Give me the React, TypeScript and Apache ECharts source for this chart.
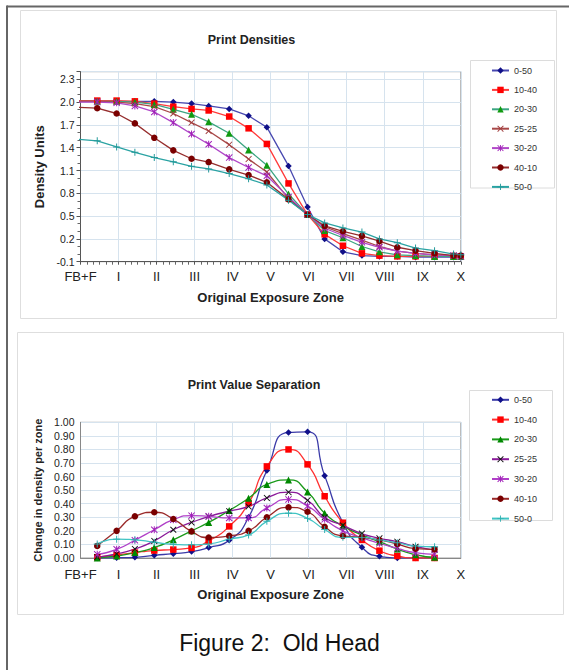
import React, { useEffect, useRef } from "react";
import * as echarts from "echarts";

// ---------- data ----------
const zoneLabels = ["FB+F", "I", "II", "III", "IV", "V", "VI", "VII", "VIII", "IX", "X"];
const seriesNames = ["0-50", "10-40", "20-30", "25-25", "30-20", "40-10", "50-0"];

// Print Densities (x in zones)
const densityX = [-0.05, 0.44, 0.95, 1.43, 1.94, 2.44, 2.92, 3.37, 3.91, 4.42, 4.9, 5.47, 5.97, 6.42, 6.9, 7.4, 7.86, 8.33, 8.81, 9.31, 9.81, 10.0];
const density0_50 = [2.01, 2.01, 2.01, 2.01, 2.01, 2.0, 1.98, 1.95, 1.91, 1.82, 1.67, 1.16, 0.62, 0.2, 0.03, -0.02, -0.03, -0.03, -0.04, -0.04, -0.04, -0.04];
const density10_40 = [2.02, 2.02, 2.02, 2.01, 1.98, 1.94, 1.91, 1.89, 1.81, 1.655, 1.45, 0.93, 0.52, 0.26, 0.11, 0.01, -0.02, -0.03, -0.03, -0.03, -0.03, -0.03];
const density20_30 = [2.01, 2.01, 2.01, 2.0, 1.97, 1.905, 1.84, 1.74, 1.59, 1.37, 1.17, 0.79, 0.52, 0.31, 0.215, 0.1, 0.03, -0.01, -0.02, -0.03, -0.03, -0.03];
const density25_25 = [2.01, 2.01, 2.0, 1.98, 1.94, 1.85, 1.73, 1.62, 1.44, 1.25, 1.08, 0.73, 0.52, 0.36, 0.27, 0.185, 0.1, 0.04, 0.01, -0.01, -0.02, -0.03];
const density30_20 = [2.0, 2.0, 1.99, 1.95, 1.87, 1.73, 1.58, 1.445, 1.27, 1.14, 1.03, 0.75, 0.52, 0.34, 0.245, 0.155, 0.09, 0.04, 0.01, -0.01, -0.02, -0.03];
const density40_10 = [1.93, 1.92, 1.85, 1.72, 1.53, 1.365, 1.255, 1.21, 1.115, 1.04, 0.945, 0.72, 0.52, 0.37, 0.3, 0.24, 0.17, 0.09, 0.045, 0.01, -0.02, -0.02];
const density50_0 = [1.51, 1.49, 1.41, 1.34, 1.27, 1.215, 1.155, 1.12, 1.06, 0.99, 0.91, 0.71, 0.52, 0.41, 0.345, 0.29, 0.2, 0.15, 0.08, 0.045, 0.0, -0.01];

// Print Value Separation
const separationX = [0.44, 0.95, 1.43, 1.94, 2.44, 2.92, 3.37, 3.91, 4.42, 4.9, 5.47, 5.97, 6.42, 6.9, 7.4, 7.86, 8.33, 8.81, 9.31];
const sep0_50 = [0.0, 0.002, 0.005, 0.02, 0.032, 0.047, 0.077, 0.13, 0.3, 0.645, 0.925, 0.93, 0.607, 0.26, 0.079, 0.012, 0.0, 0.0, 0.0];
const sep10_40 = [0.005, 0.022, 0.04, 0.055, 0.062, 0.074, 0.126, 0.233, 0.405, 0.675, 0.8, 0.69, 0.455, 0.26, 0.133, 0.054, 0.015, 0.0, 0.0];
const sep20_30 = [0.0, 0.015, 0.04, 0.077, 0.134, 0.2, 0.262, 0.35, 0.44, 0.542, 0.575, 0.486, 0.33, 0.236, 0.17, 0.12, 0.066, 0.024, 0.005];
const sep25_25 = [0.007, 0.03, 0.067, 0.126, 0.208, 0.262, 0.305, 0.345, 0.38, 0.443, 0.485, 0.425, 0.3, 0.24, 0.18, 0.145, 0.12, 0.083, 0.06];
const sep30_20 = [0.027, 0.064, 0.131, 0.208, 0.282, 0.312, 0.307, 0.295, 0.295, 0.369, 0.432, 0.383, 0.285, 0.2, 0.15, 0.108, 0.071, 0.039, 0.027];
const sep40_10 = [0.089, 0.2, 0.307, 0.337, 0.287, 0.196, 0.151, 0.163, 0.2, 0.3, 0.373, 0.341, 0.23, 0.162, 0.152, 0.133, 0.103, 0.069, 0.064];
const sep50_0 = [0.104, 0.139, 0.134, 0.116, 0.101, 0.097, 0.104, 0.139, 0.17, 0.27, 0.33, 0.292, 0.21, 0.152, 0.152, 0.133, 0.113, 0.088, 0.083];

const densitySeries = [density0_50, density10_40, density20_30, density25_25, density30_20, density40_10, density50_0];
const separationSeries = [sep0_50, sep10_40, sep20_30, sep25_25, sep30_20, sep40_10, sep50_0];

// ---------- styles ----------
const FONT = "'Liberation Sans', Arial, Helvetica, sans-serif";
const X_PATH = "path://M1,0L5,4L9,0L10,1L6,5L10,9L9,10L5,6L1,10L0,9L4,5L0,1Z";
const STAR_PATH = "path://M1,0L5,4L9,0L10,1L6,5L10,9L9,10L5,6L1,10L0,9L4,5L0,1Z M4.3,0L5.7,0L5.7,10L4.3,10Z";
const PLUS_PATH = "path://M4.3,0L5.7,0L5.7,4.3L10,4.3L10,5.7L5.7,5.7L5.7,10L4.3,10L4.3,5.7L0,5.7L0,4.3L4.3,4.3Z";

const topStyles = [
  { symbol: "diamond", size: 6.5, line: "#4848b0", marker: "#101088" },
  { symbol: "rect", size: 6.5, line: "#ff3b3b", marker: "#ff0000" },
  { symbol: "triangle", size: 7, line: "#3ca582", marker: "#119a11" },
  { symbol: X_PATH, size: 6.5, line: "#a84848", marker: "#a03c3c" },
  { symbol: STAR_PATH, size: 7, line: "#b048c8", marker: "#a020b8" },
  { symbol: "circle", size: 6.5, line: "#962e2e", marker: "#7a0000" },
  { symbol: PLUS_PATH, size: 7, line: "#2aa3a3", marker: "#229999" },
];
const bottomStyles = [
  { symbol: "diamond", size: 6.5, line: "#3a3aa8", marker: "#10108a" },
  { symbol: "rect", size: 6.5, line: "#ff3030", marker: "#ff0000" },
  { symbol: "triangle", size: 7, line: "#1a9a1a", marker: "#008800" },
  { symbol: X_PATH, size: 6.5, line: "#8a1a9a", marker: "#111111" },
  { symbol: STAR_PATH, size: 7, line: "#b040c8", marker: "#a020b8" },
  { symbol: "circle", size: 6.5, line: "#9a2a2a", marker: "#7a0000" },
  { symbol: PLUS_PATH, size: 7, line: "#40c4c4", marker: "#30b0b0" },
];

function buildSeries(name: string, xs: number[], ys: number[], st: any, gi: number, smooth: number | boolean) {
  return {
    type: "line",
    name,
    xAxisIndex: gi,
    yAxisIndex: gi,
    data: xs.map((x, i) => [x, ys[i]]),
    symbol: st.symbol,
    symbolSize: st.size,
    symbolKeepAspect: true,
    smooth,
    clip: true,
    lineStyle: { color: st.line, width: 1.3 },
    itemStyle: { color: st.marker },
    emphasis: { disabled: true },
    silent: true,
  };
}

const gridColor = "#d6e3ee";

export default function App() {
  const ref = useRef<HTMLDivElement>(null);
  useEffect(() => {
    document.body.style.margin = "0";
    if (!ref.current) return;
    const chart = echarts.init(ref.current, null, { renderer: "svg" });
    const series: any[] = [];
    seriesNames.forEach((n, i) => series.push(buildSeries(n, densityX, densitySeries[i], topStyles[i], 0, false)));
    seriesNames.forEach((n, i) => series.push(buildSeries(n + " ", separationX, separationSeries[i], bottomStyles[i], 1, 0.6)));

    const xLabel = { formatter: (v: number) => zoneLabels[Math.round(v)] ?? "", fontSize: 13, color: "#222", fontFamily: FONT, margin: 8 };
    const axisTitle = { fontWeight: "bold", fontSize: 13, color: "#222", fontFamily: FONT };
    const legendBase = {
      orient: "vertical", left: 491, itemWidth: 17, itemHeight: 8, padding: 0,
      textStyle: { fontSize: 9, color: "#333", fontFamily: FONT }, selectedMode: false,
      formatter: (n: string) => n.trim(),
    };

    const option: any = {
      animation: false,
      backgroundColor: "#fff",
      grid: [
        { left: 80.5, top: 71.7, width: 380.3, height: 190, show: true, borderColor: "#a0a0a0", borderWidth: 1, backgroundColor: "transparent" },
        { left: 80.5, top: 422.3, width: 380.3, height: 135.7, show: true, borderColor: "#a0a0a0", borderWidth: 1, backgroundColor: "transparent" },
      ],
      xAxis: [
        {
          gridIndex: 0, type: "value", min: 0, max: 10, interval: 1,
          axisLine: { show: true, onZero: false, lineStyle: { color: "#555" } },
          axisTick: { show: true, length: 3, lineStyle: { color: "#555" } },
          minorTick: { show: true, splitNumber: 6, length: 3, lineStyle: { color: "#666" } },
          axisLabel: xLabel,
          splitLine: { show: true, lineStyle: { color: gridColor } },
          name: "Original Exposure Zone", nameLocation: "middle", nameGap: 29, nameTextStyle: axisTitle,
        },
        {
          gridIndex: 1, type: "value", min: 0, max: 10, interval: 1,
          axisLine: { show: true, onZero: false, lineStyle: { color: "#888" } },
          axisTick: { show: false },
          axisLabel: { ...xLabel, margin: 10 },
          splitLine: { show: true, lineStyle: { color: gridColor } },
          name: "Original Exposure Zone", nameLocation: "middle", nameGap: 29.5, nameTextStyle: axisTitle,
        },
      ],
      yAxis: [
        {
          gridIndex: 0, type: "value", min: -0.1, max: 2.4, interval: 0.3,
          axisLine: { show: true, onZero: false, lineStyle: { color: "#555" } },
          axisTick: { show: true, length: 4, lineStyle: { color: "#555" } },
          minorTick: { show: true, splitNumber: 3, length: 3, lineStyle: { color: "#666" } },
          axisLabel: { formatter: (v: number) => v.toFixed(1), fontSize: 10.5, color: "#222", fontFamily: FONT, margin: 6, showMaxLabel: false },
          splitLine: { show: true, lineStyle: { color: gridColor } },
          name: "Density Units", nameLocation: "middle", nameGap: 33, nameTextStyle: { ...axisTitle, fontSize: 13 },
        },
        {
          gridIndex: 1, type: "value", min: 0, max: 1, interval: 0.1,
          axisLine: { show: true, onZero: false, lineStyle: { color: "#888" } },
          axisTick: { show: false },
          axisLabel: { formatter: (v: number) => v.toFixed(2), fontSize: 10.5, color: "#222", fontFamily: FONT, margin: 6 },
          splitLine: { show: true, lineStyle: { color: gridColor } },
          name: "Change in density per zone", nameLocation: "middle", nameGap: 34, nameTextStyle: { ...axisTitle, fontSize: 11 },
        },
      ],
      legend: [
        { ...legendBase, data: seriesNames, top: 66, itemGap: 10.4 },
        { ...legendBase, data: seriesNames.map((n) => n + " "), top: 395.3, itemGap: 10.8 },
      ],
      graphic: [
        { type: "line", silent: true, shape: { x1: 7, y1: 6.5, x2: 569, y2: 6.5 }, style: { stroke: "#666", lineWidth: 2 } },
        { type: "line", silent: true, shape: { x1: 7, y1: 5.5, x2: 7, y2: 670 }, style: { stroke: "#666", lineWidth: 2 } },
        { type: "rect", silent: true, shape: { x: 20.5, y: 10.5, width: 536, height: 308 }, style: { fill: "none", stroke: "#dedede", lineWidth: 1 } },
        { type: "rect", silent: true, shape: { x: 17.5, y: 332.5, width: 546, height: 282 }, style: { fill: "none", stroke: "#dedede", lineWidth: 1 } },
        { type: "rect", silent: true, shape: { x: 470.5, y: 60.5, width: 84, height: 127.5 }, style: { fill: "none", stroke: "#dcdcdc", lineWidth: 1 } },
        { type: "rect", silent: true, shape: { x: 469.5, y: 390.5, width: 83, height: 130 }, style: { fill: "none", stroke: "#dcdcdc", lineWidth: 1 } },
        { type: "text", silent: true, x: 251.5, y: 40, style: { text: "Print Densities", fontSize: 12.5, fontWeight: "bold", fontFamily: FONT, fill: "#222", align: "center", verticalAlign: "middle" } },
        { type: "text", silent: true, x: 254, y: 385, style: { text: "Print Value Separation", fontSize: 12.5, fontWeight: "bold", fontFamily: FONT, fill: "#222", align: "center", verticalAlign: "middle" } },
        { type: "text", silent: true, x: 279.5, y: 643, style: { text: "Figure 2:  Old Head", fontSize: 23, fontFamily: FONT, fill: "#111", align: "center", verticalAlign: "middle" } },
      ],
      series,
    };
    chart.setOption(option);
    return () => chart.dispose();
  }, []);
  return <div ref={ref} style={{ width: 569, height: 670 }} />;
}
